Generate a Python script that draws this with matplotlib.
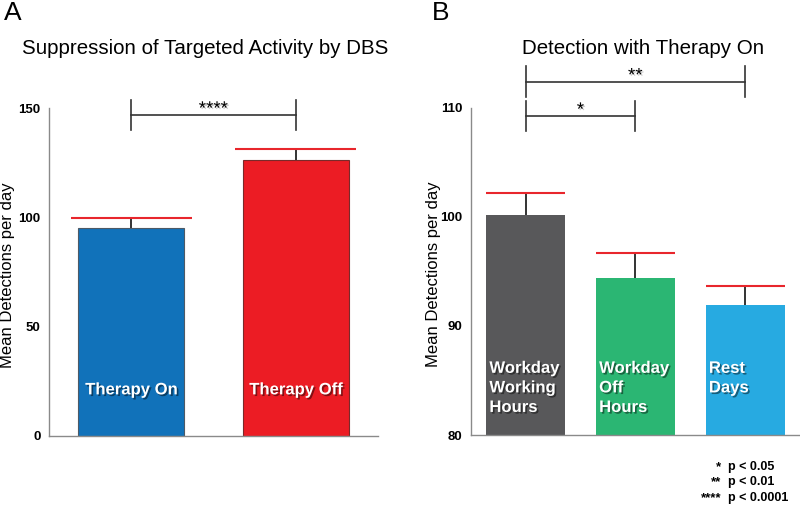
import matplotlib
matplotlib.use("Agg")
import matplotlib.pyplot as plt
import matplotlib.patheffects as pe

plt.rcParams['font.family'] = ['Liberation Sans', 'DejaVu Sans']

# panel A data
a_labels = ["Therapy On", "Therapy Off"]
a_means = [95.3, 126.3]
a_err = [4.6, 5.2]
a_colors = ["#1172ba", "#ec1c24"]
a_edges = ["#4d5a66", "#7a2a2a"]

# panel B data
b_labels = ["Workday\nWorking\nHours", "Workday\nOff\nHours", "Rest\nDays"]
b_means = [100.2, 94.35, 91.9]
b_err = [2.0, 2.3, 1.75]
b_colors = ["#58585a", "#2bb673", "#27aae1"]

# significance brackets: (left bar, right bar, y, stars)
a_sig = [(0, 1, 147.0, "****")]
b_sig = [(0, 1, 109.25, "*"), (0, 2, 112.4, "**")]

legend_stars = ["*", "**", "****"]
legend_p = ["p < 0.05", "p < 0.01", "p < 0.0001"]

SPINE = "#8a8a8a"
shadow = [pe.SimplePatchShadow(offset=(1.2, -1.2), shadow_rgbFace="black", alpha=0.45), pe.Normal()]
star_shadow = [pe.SimplePatchShadow(offset=(1, -1), shadow_rgbFace="gray", alpha=0.4), pe.Normal()]


def style_axis(ax, ticks, lim):
    ax.set_ylim(*lim)
    ax.set_yticks(ticks)
    ax.set_xticks([])
    for s in ["top", "right"]:
        ax.spines[s].set_visible(False)
    for s in ["left", "bottom"]:
        ax.spines[s].set_color(SPINE)
        ax.spines[s].set_linewidth(1.0)
    ax.tick_params(axis="y", length=0, pad=6, labelsize=9.5)
    for t in ax.get_yticklabels():
        t.set_fontweight("bold")
    ax.set_ylabel("Mean Detections per day", fontsize=12, va="center")


def draw_brackets(ax, sigs, tick):
    for x0, x1, y, stars in sigs:
        ax.plot([x0, x1], [y, y], color="#333333", lw=1.2, clip_on=False)
        for x in (x0, x1):
            ax.plot([x, x], [y - tick, y + tick], color="#333333", lw=1.2, clip_on=False)
        ax.annotate(stars, ((x0 + x1) / 2, y), xytext=(0, 0.5), textcoords="offset points",
                    ha="center", va="baseline", fontsize=13.5, annotation_clip=False,
                    path_effects=star_shadow)


fig = plt.figure(figsize=(8, 5.05), dpi=100)

# ---- panel A
ax1 = fig.add_axes([0.06125, 0.1372, 0.41125, 0.6483])
xa = list(range(len(a_means)))
wa = 0.644
ax1.bar(xa, a_means, width=wa, color=a_colors, edgecolor=a_edges, linewidth=0.8, zorder=2)
ax1.vlines(xa, a_means, [m + e for m, e in zip(a_means, a_err)], color="#333333", lw=1.4, zorder=1)
for x, m, e in zip(xa, a_means, a_err):
    ax1.hlines(m + e, x - 0.368, x + 0.368, color="#e8262c", lw=1.5, zorder=3)
for x, lab in zip(xa, a_labels):
    ax1.text(x, 21, lab, color="white", fontsize=12, fontweight="bold", ha="center", va="center",
             path_effects=shadow, zorder=4)
ax1.set_xlim(-0.5, 1.5)
style_axis(ax1, [0, 50, 100, 150], (0, 150))
ax1.yaxis.set_label_coords(-0.125, 0.49)
draw_brackets(ax1, a_sig, 6.9)

# ---- panel B
ax2 = fig.add_axes([0.5884, 0.1386, 0.4116, 0.648])
xb = list(range(len(b_means)))
wb = 0.72
ax2.bar(xb, b_means, width=wb, color=b_colors, linewidth=0, zorder=2)
ax2.vlines(xb, b_means, [m + e for m, e in zip(b_means, b_err)], color="#333333", lw=1.4, zorder=1)
for x, m, e in zip(xb, b_means, b_err):
    ax2.hlines(m + e, x - wb / 2, x + wb / 2, color="#e8262c", lw=1.5, zorder=3)
for x, lab in zip(xb, b_labels):
    ax2.text(x - wb / 2 + 0.03, 86.8, lab, color="white", fontsize=12, fontweight="bold",
             ha="left", va="top", linespacing=1.38, path_effects=shadow, zorder=4)
ax2.set_xlim(-0.5, 2.5)
style_axis(ax2, [80, 90, 100, 110], (80, 110))
ax2.yaxis.set_label_coords(-0.112, 0.49)
draw_brackets(ax2, b_sig, 1.4)

# titles and panel letters
fig.text(4 / 800, 1 - 13 / 505, "A", fontsize=19, ha="left", va="center")
fig.text(432 / 800, 1 - 13 / 505, "B", fontsize=19, ha="left", va="center")
fig.text(205 / 800, 1 - 48 / 505, "Suppression of Targeted Activity by DBS", fontsize=14.8,
         ha="center", va="center")
fig.text(643 / 800, 1 - 48 / 505, "Detection with Therapy On", fontsize=14.8,
         ha="center", va="center")

# significance key
for i, (s, p) in enumerate(zip(legend_stars, legend_p)):
    y = 1 - (467 + i * 15.5) / 505
    fig.text(721 / 800, y, s, fontsize=9.5, fontweight="bold", ha="right", va="center")
    fig.text(728 / 800, y, p, fontsize=9, fontweight="bold", ha="left", va="center")

fig.savefig("out.png", dpi=100)
plt.close(fig)
